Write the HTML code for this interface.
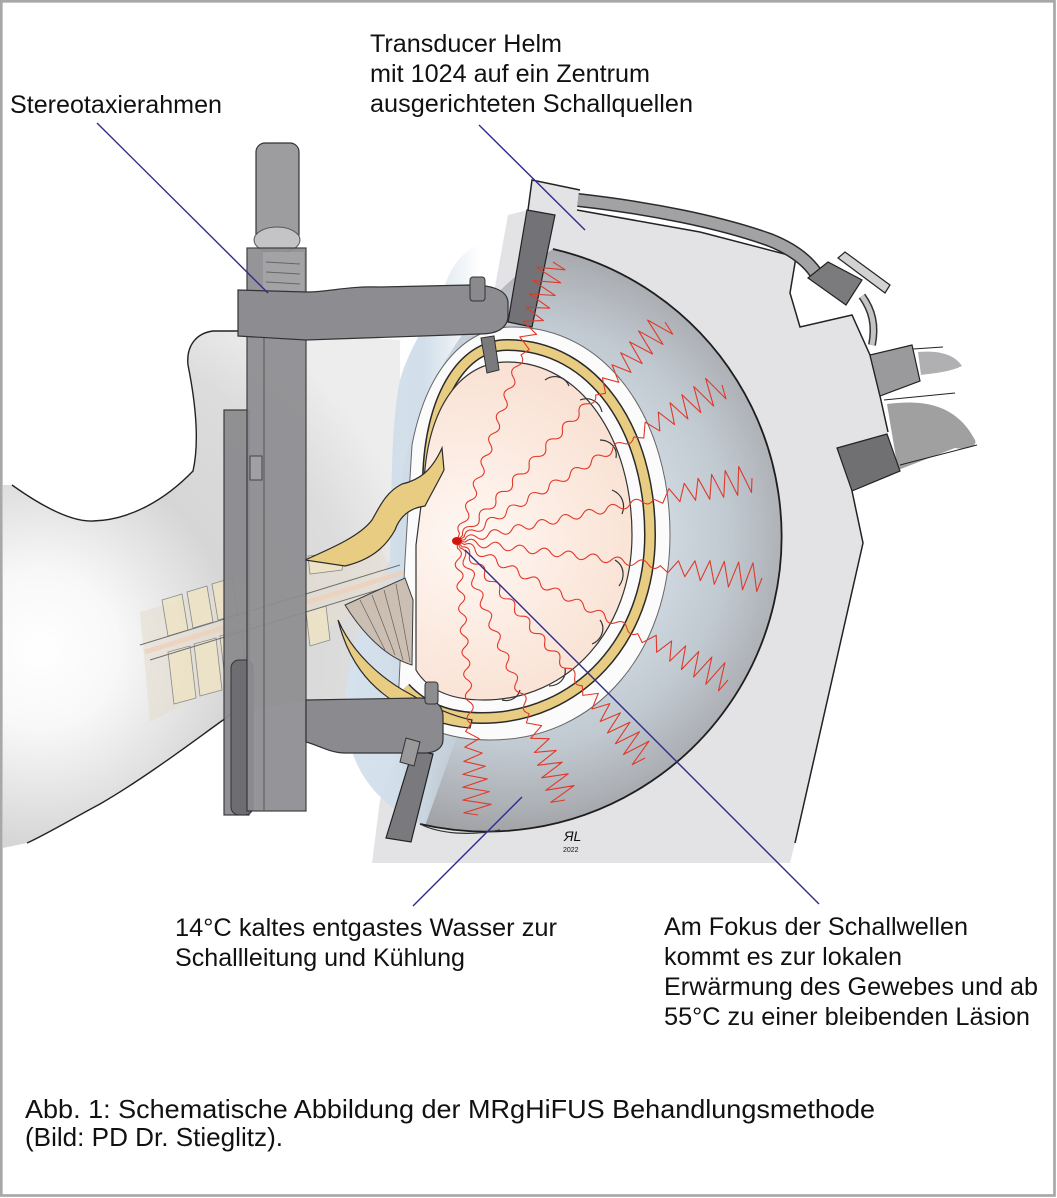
<!DOCTYPE html>
<html><head><meta charset="utf-8"><style>
html,body{margin:0;padding:0;background:#fff;}
svg{display:block;}
text{font-family:"Liberation Sans",Arial,sans-serif;fill:#111;}
</style></head><body>
<svg width="1057" height="1198" viewBox="0 0 1057 1198" xmlns="http://www.w3.org/2000/svg">
<defs>
 <radialGradient id="neck" cx="40" cy="650" r="390" gradientUnits="userSpaceOnUse">
  <stop offset="0" stop-color="#ffffff"/><stop offset="0.2" stop-color="#f8f8f8"/><stop offset="0.5" stop-color="#d6d6d6"/><stop offset="0.8" stop-color="#dcdcdc"/><stop offset="1" stop-color="#ededed"/>
 </radialGradient>
 <radialGradient id="dome" cx="515" cy="535" r="300" gradientUnits="userSpaceOnUse">
  <stop offset="0.45" stop-color="#d3dce4"/><stop offset="0.72" stop-color="#c0c8d0"/><stop offset="0.9" stop-color="#aeb1b6"/><stop offset="1" stop-color="#a0a2a6"/>
 </radialGradient>
 <linearGradient id="sac" x1="340" y1="0" x2="480" y2="0" gradientUnits="userSpaceOnUse">
  <stop offset="0" stop-color="#d6e3ee" stop-opacity="1"/><stop offset="0.6" stop-color="#cddbe7" stop-opacity="0.9"/><stop offset="1" stop-color="#cddbe7" stop-opacity="0"/>
 </linearGradient>
 <radialGradient id="brain" cx="470" cy="540" r="200" gradientUnits="userSpaceOnUse">
  <stop offset="0" stop-color="#fff8f4"/><stop offset="0.6" stop-color="#fbe8dd"/><stop offset="1" stop-color="#f8dfd0"/>
 </radialGradient>
 <path id="wave" d="M0,0 L3.5,-14 L10.5,14 L17.5,-14 L24.5,13 L31.5,-13 L38.5,12 L45.5,-12 L52.5,11 L59.5,-10 L67,9 L75,-8 L83,7 L92,-6 L100,0 Q106,-7 112,0 T124,0 T136,0 T148,0 T160,0 T172,0 T184,0 T196,0 T208,0 T220,0 T232,0 T244,0 T256,0 T268,0 T280,0 T292,0 L300,0" fill="none" stroke="#e0392a" stroke-width="1.1" stroke-linejoin="round" vector-effect="non-scaling-stroke"/>
</defs>

<!-- border -->
<rect x="1.3" y="1.3" width="1053.2" height="1194.2" fill="#fff" stroke="#a8a8a8" stroke-width="2.7"/>

<!-- neck / head region -->
<path d="M12,485 C40,505 70,522 93,521 C130,520 165,500 193,471 C200,440 195,400 188,365 C186,345 197,333 213,331 L250,330 L400,340 L400,700 L310,700 L233,713 C200,736 150,775 100,804 C70,820 45,835 27,843 L3,848 L3,485 Z" fill="url(#neck)"/>
<path d="M12,485 C40,505 70,522 93,521 C130,520 165,500 193,471 C200,440 195,400 188,365 C186,345 197,333 213,331 L240,331" fill="none" stroke="#222" stroke-width="1.4"/>
<path d="M27,843 C45,835 70,820 100,804 C150,775 200,736 233,713" fill="none" stroke="#222" stroke-width="1.4"/>

<!-- housing -->
<polygon points="532,180 580,190 577,210 700,232 796,257 790,293 800,327 852,315 870,355 880,396 888,432 852,491 863,543 795,843 790,863 372,863 380,800 420,700 508,215 528,210" fill="#e3e3e5"/>
<polyline points="528,210 532,180 580,190" fill="none" stroke="#222" stroke-width="1.5"/>
<polyline points="577,210 700,232 796,257 790,293 800,327 852,315 870,355 880,396 888,432" fill="none" stroke="#222" stroke-width="1.5"/>
<polyline points="852,491 863,543 795,843" fill="none" stroke="#222" stroke-width="1.5"/>
<!-- tube -->
<path d="M578,200 C650,208 720,222 770,240 C790,248 805,258 815,272" fill="none" stroke="#2a2a2a" stroke-width="14"/>
<path d="M578,200 C650,208 720,222 770,240 C790,248 805,258 815,272" fill="none" stroke="#a2a2a4" stroke-width="11"/>
<path d="M862,296 C872,310 876,325 872,345" fill="none" stroke="#333" stroke-width="8"/>
<path d="M862,296 C872,310 876,325 872,345" fill="none" stroke="#c4c4c4" stroke-width="5"/>
<polygon points="808,278 828,262 862,280 846,305" fill="#7b7b7e" stroke="#222" stroke-width="1.2"/>
<polygon points="838,258 845,252 890,285 885,293" fill="#d2d2d2" stroke="#222" stroke-width="1.2"/>
<!-- right connectors -->
<path d="M918,352 C940,350 955,355 962,366 C950,372 935,373 921,375 Z" fill="#b0b0b2"/>
<line x1="913" y1="349" x2="943" y2="347" stroke="#222" stroke-width="1"/>
<polygon points="870,355 912,345 920,381 880,396" fill="#9a9a9c" stroke="#222" stroke-width="1.2"/>
<path d="M887,404 C920,400 955,402 975,440 C978,447 965,450 955,448 L898,470 Z" fill="#8f8f91" opacity="0.85"/>
<line x1="884" y1="400" x2="955" y2="393" stroke="#222" stroke-width="1"/>
<line x1="900" y1="465" x2="977" y2="445" stroke="#222" stroke-width="1"/>
<polygon points="837,448 887,434 900,471 852,491" fill="#707073" stroke="#222" stroke-width="1.2"/>

<!-- dome -->
<path d="M553,249 A292 292 0 1 1 420,824 C392,760 385,640 395,520 C405,400 470,300 553,249 Z" fill="url(#dome)"/>
<!-- water sac -->
<path d="M510,240 C478,236 455,255 445,285 C430,320 410,345 400,380 C390,430 392,500 390,560 C370,600 345,650 345,710 C346,765 375,805 425,826 L470,700 L520,300 Z" fill="url(#sac)"/>
<path d="M553,249 A292 292 0 1 1 420,824" fill="none" stroke="#1e1e1e" stroke-width="1.8"/>
<path d="M420,824 C440,834 470,836 500,830" fill="none" stroke="#333" stroke-width="1.2"/>

<!-- mount bars -->
<polygon points="527,210 555,215 532,327 508,322" fill="#737377" stroke="#222" stroke-width="1.2"/>
<polygon points="413,750 433,754 411,842 386,838" fill="#7a7a7e" stroke="#222" stroke-width="1.2"/>

<!-- spine -->
<polygon points="140,612 380,545 398,592 150,722" fill="#e4ddd0" opacity="0.6"/>
<g fill="#efe3c3" fill-opacity="0.75" stroke="#8a8a8a" stroke-width="0.8">
 <polygon points="162,600 182,594 188,630 168,636"/>
 <polygon points="187,592 207,586 213,622 193,628"/>
 <polygon points="212,584 232,578 238,614 218,620"/>
 <polygon points="168,652 190,646 196,698 174,704"/>
 <polygon points="194,644 216,638 222,690 200,696"/>
 <polygon points="220,636 242,630 246,682 226,688"/>
 <polygon points="308,556 345,552 342,570 310,574"/>
 <polygon points="306,612 326,606 330,640 310,646"/>
</g>
<line x1="140" y1="645" x2="400" y2="565" stroke="#6d6d6d" stroke-width="1"/>
<line x1="150" y1="660" x2="410" y2="580" stroke="#6d6d6d" stroke-width="1"/>
<line x1="145" y1="652" x2="405" y2="572" stroke="#f0cfb8" stroke-width="5" opacity="0.7"/>

<!-- scalp / skull / brain -->
<path d="M412,445 C428,362 470,327 512,327 C608,327 670,420 670,535 C670,650 598,740 490,740 C445,740 415,725 398,705 L405,560 Z" fill="#fbfbfb" stroke="#666" stroke-width="1"/>
<path d="M428,478 C430,398 462,345 507,345 C594,345 650,430 650,535 C650,640 578,718 482,718 C448,718 424,708 405,688" fill="none" stroke="#2a2a2a" stroke-width="12"/>
<path d="M428,478 C430,398 462,345 507,345 C594,345 650,430 650,535 C650,640 578,718 482,718 C448,718 424,708 405,688" fill="none" stroke="#e8cc82" stroke-width="9"/>
<path d="M424,482 C428,405 462,362 507,362 C582,362 632,440 632,535 C632,628 570,700 484,700 C450,700 428,690 416,670 L416,545 Z" fill="url(#brain)" stroke="#333" stroke-width="1.2"/>
<g fill="none" stroke="#333" stroke-width="1.2">
 <path d="M545,380 c8,-6 20,-4 24,6"/>
 <path d="M580,400 c10,-4 20,2 22,12"/>
 <path d="M600,440 c10,0 18,8 16,18"/>
 <path d="M612,490 c10,4 14,14 10,24"/>
 <path d="M615,560 c10,6 10,18 4,26"/>
 <path d="M600,620 c6,8 2,20 -8,24"/>
 <path d="M565,668 c2,10 -6,18 -16,18"/>
 <path d="M520,690 c-2,8 -10,12 -18,10"/>
</g>
<!-- skull base -->
<path d="M442,448 C432,470 420,480 402,484 C386,492 380,506 372,520 C360,536 332,548 305,560 L345,566 C370,560 385,548 395,530 C400,516 410,508 425,506 C430,496 438,482 444,470 Z" fill="#e8cc82" stroke="#2a2a2a" stroke-width="1.2"/>
<path d="M338,620 C352,652 380,678 410,694 C430,706 452,716 472,720 L470,728 C444,726 418,716 398,704 C368,686 348,660 338,620 Z" fill="#e8cc82" stroke="#2a2a2a" stroke-width="1.2"/>
<path d="M345,605 L405,578 L413,600 L412,665 C395,660 370,645 345,605 Z" fill="#cbbfb4" stroke="#3a3a3a" stroke-width="1"/>
<g stroke="#6d5d52" stroke-width="0.7">
 <line x1="360" y1="600" x2="385" y2="650"/><line x1="372" y1="595" x2="395" y2="655"/><line x1="384" y1="590" x2="403" y2="660"/><line x1="396" y1="584" x2="410" y2="662"/>
</g>

<!-- waves -->
<use href="#wave" transform="translate(553,262) rotate(109) scale(0.983,1)"/>
<use href="#wave" transform="translate(665,322) rotate(133.5) scale(1.007,1)"/>
<use href="#wave" transform="translate(722,385) rotate(149.5) scale(1.025,1)"/>
<use href="#wave" transform="translate(752,478) rotate(167.9) scale(1.006,1)"/>
<use href="#wave" transform="translate(762,578) rotate(186.9) scale(1.024,1)"/>
<use href="#wave" transform="translate(728,680) rotate(207.2) scale(1.015,1)"/>
<use href="#wave" transform="translate(645,758) rotate(229.1) scale(0.957,1)"/>
<use href="#wave" transform="translate(565,800) rotate(247.4) scale(0.935,1)"/>
<use href="#wave" transform="translate(478,815) rotate(265.6) scale(0.916,1)"/>

<!-- frame -->
<rect x="256" y="143" width="43" height="100" rx="9" fill="#9d9d9f" stroke="#333" stroke-width="1.2"/>
<ellipse cx="277" cy="240" rx="23" ry="13" fill="#c4c4c6" stroke="#555" stroke-width="1"/>
<rect x="224" y="410" width="25" height="405" fill="#8c8c90" stroke="#333" stroke-width="1.2" opacity="0.95"/>
<rect x="231" y="660" width="22" height="155" rx="8" fill="#6e6e72" stroke="#333" stroke-width="1"/>
<rect x="247" y="248" width="59" height="563" fill="#8e8e92" stroke="#333" stroke-width="1.2" opacity="0.93"/>
<rect x="263" y="252" width="41" height="70" fill="#a3a3a6"/>
<g stroke="#666" stroke-width="1"><line x1="266" y1="262" x2="300" y2="264"/><line x1="266" y1="272" x2="300" y2="274"/><line x1="266" y1="282" x2="300" y2="284"/></g>
<line x1="264" y1="330" x2="264" y2="810" stroke="#555" stroke-width="1"/>
<rect x="250" y="456" width="12" height="24" fill="#a0a0a3" stroke="#444" stroke-width="1"/>
<path d="M238,290 L306,292 C330,292 345,286 380,287 L470,285 C492,285 507,290 508,302 L508,318 C506,330 495,334 480,334 L306,340 L238,336 Z" fill="#8d8d91" stroke="#333" stroke-width="1.2"/>
<rect x="470" y="277" width="15" height="24" rx="3" fill="#8a8a8c" stroke="#333" stroke-width="1"/>
<polygon points="481,338 494,336 499,370 487,373" fill="#7a7a7c" stroke="#333" stroke-width="1"/>
<path d="M306,700 L420,698 C435,698 443,706 443,716 L443,740 C443,748 435,753 425,753 L345,753 C330,753 318,745 306,742 Z" fill="#8b8b8f" stroke="#333" stroke-width="1.2"/>
<rect x="425" y="682" width="13" height="22" rx="3" fill="#8d8d8f" stroke="#333" stroke-width="1"/>
<polygon points="400,762 406,738 420,742 414,766" fill="#9a9a9a" stroke="#333" stroke-width="1"/>

<!-- focus -->
<ellipse cx="457" cy="541" rx="5" ry="4" fill="#d4150c"/>

<!-- signature -->
<text x="564" y="841" font-size="14" font-style="italic">ЯL</text>
<text x="563" y="852" font-size="7">2022</text>

<!-- leader lines -->
<g stroke="#2e2c8c" stroke-width="1.4">
 <line x1="97" y1="123" x2="268" y2="293"/>
 <line x1="479" y1="125" x2="585" y2="230"/>
 <line x1="522" y1="797" x2="413" y2="906"/>
 <line x1="465" y1="550" x2="819" y2="904"/>
</g>

<!-- labels -->
<g font-size="25">
 <text x="10" y="113" textLength="212" lengthAdjust="spacingAndGlyphs">Stereotaxierahmen</text>
 <text x="370" y="52" textLength="192" lengthAdjust="spacingAndGlyphs">Transducer Helm</text>
 <text x="370" y="82" textLength="280" lengthAdjust="spacingAndGlyphs">mit 1024 auf ein Zentrum</text>
 <text x="370" y="112" textLength="323" lengthAdjust="spacingAndGlyphs">ausgerichteten Schallquellen</text>
 <text x="175" y="936" textLength="382" lengthAdjust="spacingAndGlyphs">14°C kaltes entgastes Wasser zur</text>
 <text x="175" y="966" textLength="290" lengthAdjust="spacingAndGlyphs">Schallleitung und Kühlung</text>
 <text x="664" y="935" textLength="304" lengthAdjust="spacingAndGlyphs">Am Fokus der Schallwellen</text>
 <text x="664" y="965" textLength="238" lengthAdjust="spacingAndGlyphs">kommt es zur lokalen</text>
 <text x="664" y="995" textLength="374" lengthAdjust="spacingAndGlyphs">Erwärmung des Gewebes und ab</text>
 <text x="664" y="1025" textLength="366" lengthAdjust="spacingAndGlyphs">55°C zu einer bleibenden Läsion</text>
</g>
<g font-size="26">
 <text x="25" y="1118" textLength="850" lengthAdjust="spacingAndGlyphs">Abb. 1: Schematische Abbildung der MRgHiFUS Behandlungsmethode</text>
 <text x="25" y="1146" textLength="258" lengthAdjust="spacingAndGlyphs">(Bild: PD Dr. Stieglitz).</text>
</g>
</svg>
</body></html>
